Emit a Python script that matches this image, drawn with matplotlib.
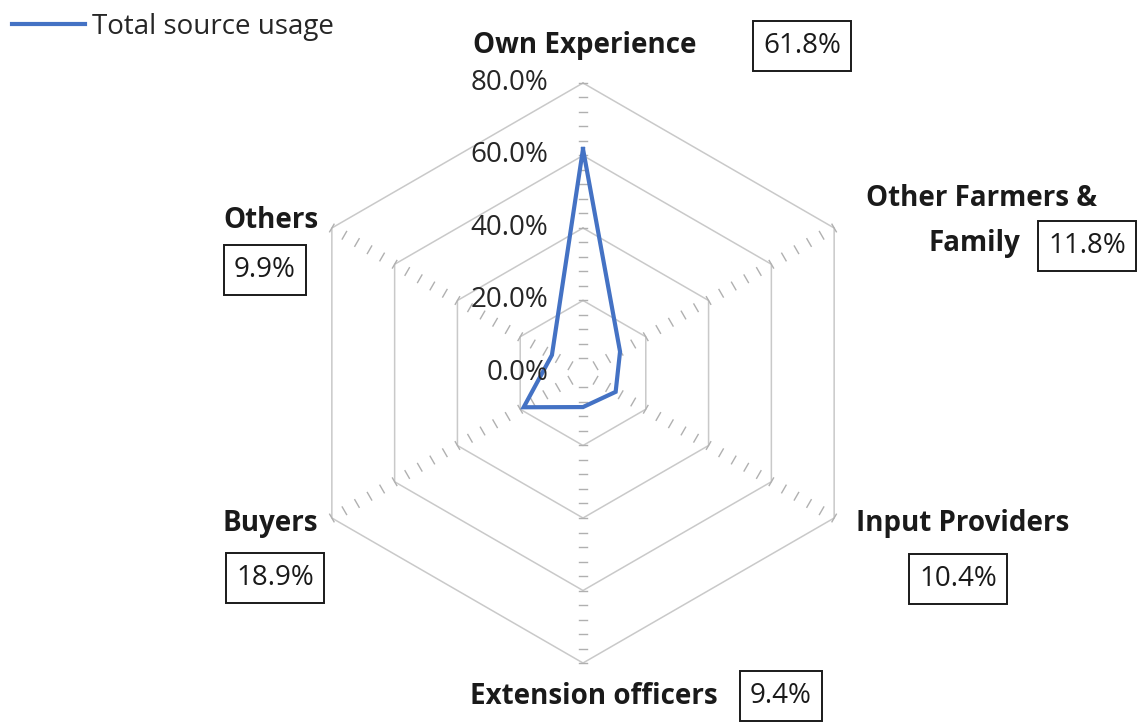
import matplotlib.pyplot as plt
import numpy as np

plt.rcParams['font.family'] = ['Open Sans', 'DejaVu Sans']

categories = ['Own Experience', 'Other Farmers &\nFamily', 'Input Providers',
              'Extension officers', 'Buyers', 'Others']
values = [61.8, 11.8, 10.4, 9.4, 18.9, 9.9]
value_labels = ['61.8%', '11.8%', '10.4%', '9.4%', '18.9%', '9.9%']
ticks = [0, 20, 40, 60, 80]
tick_labels = ['0.0%', '20.0%', '40.0%', '60.0%', '80.0%']
series_name = 'Total source usage'

W, H = 1141, 724
fig = plt.figure(figsize=(W / 100, H / 100), dpi=100)
ax = fig.add_axes([0, 0, 1, 1])
ax.axis('off')

# pixel geometry: centre of the web and pixels per unit
cx, cy = 583, 373
scale = 290 / 80.0
ax.set_xlim(-cx / scale, (W - cx) / scale)
ax.set_ylim(-(H - cy) / scale, cy / scale)
ax.set_aspect('equal')

n = len(categories)
angles = np.arange(n) * 2 * np.pi / n


def xy(r, a):
    return r * np.sin(a), r * np.cos(a)


grid_col = '#c9c9c9'
# hexagonal gridlines
for t in ticks[1:]:
    a = np.append(angles, angles[0])
    gx, gy = xy(t, a)
    ax.plot(gx, gy, color=grid_col, lw=1.1, zorder=1)

# minor tick marks along the spokes
tick_len = 1.2
for a in angles:
    for r in np.arange(4, 81, 4):
        px_, py_ = xy(r, a)
        dx, dy = np.cos(a) * tick_len, -np.sin(a) * tick_len
        ax.plot([px_ - dx, px_ + dx], [py_ - dy, py_ + dy], color='#b0b0b0', lw=1.0, zorder=1)

# data
vx, vy = xy(np.array(values + values[:1]), np.append(angles, angles[0]))
line, = ax.plot(vx, vy, color='#4472C4', lw=3.0, zorder=3, solid_joinstyle='miter')

# radial tick labels along the top spoke
for t, lab in zip(ticks, tick_labels):
    ax.text(-9.5, t, lab, ha='right', va='center', fontsize=20, color='#262626')


def fx(x):
    return x / W


def fy(y):
    return 1 - y / H


txt = '#1a1a1a'
lab_kw = dict(fontsize=20, fontweight='bold', color=txt)
box_kw = dict(fontsize=20, color=txt,
              bbox=dict(boxstyle='square,pad=0.38', fc='white', ec='#1a1a1a', lw=1.4))

# category names (one entry per line of each name)
label_pos = [[(585, 45, 'center')],
             [(1097, 199, 'right'), (1020, 243, 'right')],
             [(963, 524, 'center')],
             [(718, 697, 'right')],
             [(270, 524, 'center')],
             [(271, 220, 'center')]]
for cat, pos in zip(categories, label_pos):
    for part, (x, y, ha) in zip(cat.split('\n'), pos):
        fig.text(fx(x), fy(y), part, ha=ha, va='center', **lab_kw)

# value boxes
box_pos = [(802, 46), (1087, 246), (958, 579), (781, 696), (275, 578), (265, 270)]
for lab, (x, y) in zip(value_labels, box_pos):
    fig.text(fx(x), fy(y), lab, ha='center', va='center', **box_kw)

# legend
ax.legend([line], [series_name], loc='upper left', bbox_to_anchor=(0.006, 0.99),
          frameon=False, fontsize=20, handlelength=2.6, handletextpad=0.25,
          borderaxespad=0.0, borderpad=0.2, labelcolor='#262626')

fig.savefig('out.png', dpi=100)
